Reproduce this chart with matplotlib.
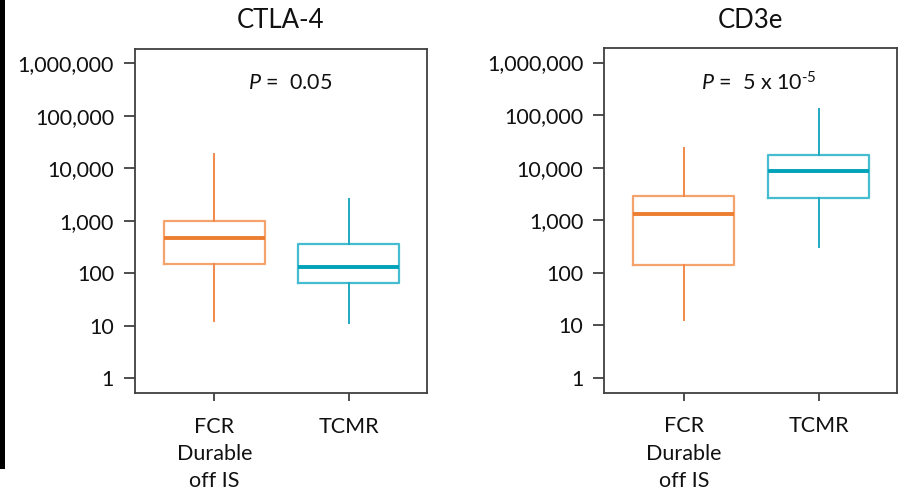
import matplotlib
matplotlib.use("Agg")
import matplotlib.pyplot as plt
from matplotlib.patches import Rectangle

plt.rcParams['font.family'] = ['Lato', 'DejaVu Sans']
plt.rcParams['mathtext.fontset'] = 'custom'
plt.rcParams['mathtext.rm'] = 'Lato'
plt.rcParams['mathtext.it'] = 'Lato:italic'

# data (log scale counts)
groups = ["FCR\nDurable\noff IS", "TCMR"]
panels = ["CTLA-4", "CD3e"]
p_labels = [r"$\mathit{P}$ =  0.05", "$\\mathit{P}$ =  5 x 10$^{\\mathregular{\u2010 5}}$"]

# per panel: [FCR, TCMR]
whislo = [[12.5, 11.5], [12.9, 309]]
q1 = [[148, 66], [142, 2680]]
med = [[464, 134], [1295, 8650]]
q3 = [[990, 357], [2850, 17500]]
whishi = [[18500, 2570], [24000, 131000]]

yticks = [1, 10, 100, 1000, 10000, 100000, 1000000]
ytick_labels = ["1", "10", "100", "1,000", "10,000", "100,000", "1,000,000"]

edge_cols = ["#F4A36C", "#45BCCF"]
med_cols = ["#ED7D31", "#00A2BA"]
whisk_cols = ["#F2894A", "#1FAAC1"]

fig = plt.figure(figsize=(8.98, 4.95), dpi=100)
axes_pos = [[0.1503, 0.2061, 0.3252, 0.695], [0.673, 0.2065, 0.3256, 0.6958]]

for k in range(2):
    ax = fig.add_axes(axes_pos[k])
    for i in range(2):
        st = [dict(whislo=whislo[k][i], q1=q1[k][i], med=med[k][i],
                   q3=q3[k][i], whishi=whishi[k][i], fliers=[])]
        ax.bxp(st, positions=[i + 1], widths=0.75, showcaps=False,
               showfliers=False, patch_artist=False,
               boxprops=dict(color=edge_cols[i], linewidth=1.6),
               medianprops=dict(color=med_cols[i], linewidth=2.8),
               whiskerprops=dict(color=whisk_cols[i], linewidth=1.4))
    ax.set_yscale('log')
    ax.set_ylim(10 ** -0.28, 10 ** 6.27)
    ax.set_xlim(0.41, 2.58)
    ax.set_yticks(yticks)
    ax.set_yticklabels(ytick_labels)
    ax.minorticks_off()
    ax.set_xticks([1, 2])
    ax.set_xticklabels(groups, linespacing=1.45)
    ax.tick_params(axis='y', length=8, width=1.3, pad=7, labelsize=15.5,
                   color='#404040', labelcolor='#111111')
    ax.tick_params(axis='x', length=6, width=1.3, pad=11, labelsize=15.5,
                   color='#404040', labelcolor='#111111')
    for s in ax.spines.values():
        s.set_color('#404040')
        s.set_linewidth(1.3)
    ax.set_title(panels[k], fontsize=18.5, pad=15, color='#111111')
    ax.text(1.56, 10 ** 5.62, p_labels[k], ha='center', va='center',
            fontsize=15.5, color='#111111')

fig.patches.append(Rectangle((0, 0.0525), 5 / 898, 0.9475, transform=fig.transFigure,
                             facecolor='black', edgecolor='none'))

fig.savefig("out.png", dpi=100)
